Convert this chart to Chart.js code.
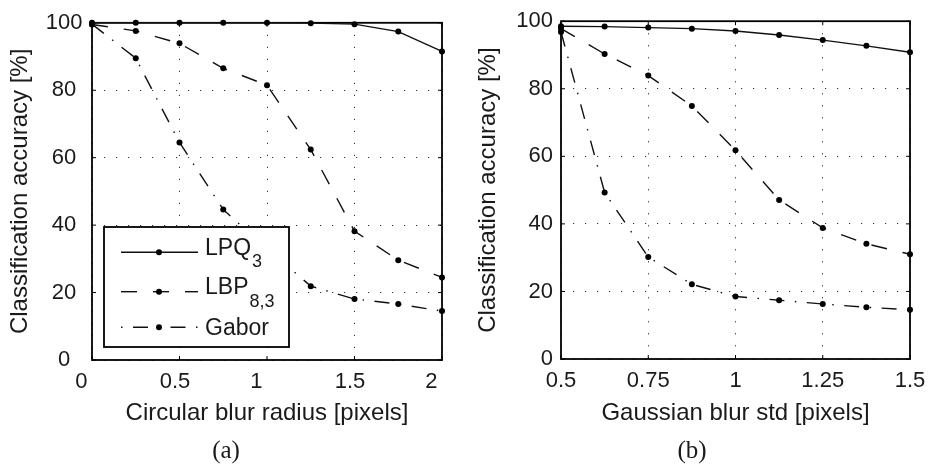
<!DOCTYPE html>
<html>
<head>
<meta charset="utf-8">
<script src="https://cdn.jsdelivr.net/npm/chart.js@4.4.1/dist/chart.umd.min.js"></script>
<style>
  html, body { margin: 0; padding: 0; background: #fff; }
  body { width: 935px; height: 466px; position: relative; overflow: hidden; }
  canvas { position: absolute; top: 0; }
  #chartA { left: 0; }
  #chartB { left: 467px; }
  .caption {
    position: absolute; top: 436px; width: 60px; text-align: center;
    font-family: "Liberation Serif", "DejaVu Serif", serif; font-size: 25px;
    line-height: 28px; color: #1a1a1a;
  }
</style>
</head>
<body>
<canvas id="chartA" width="467" height="466"></canvas>
<canvas id="chartB" width="468" height="466"></canvas>
<div class="caption" style="left:196px">(a)</div>
<div class="caption" style="left:662px">(b)</div>
<script>
// (a) circular blur
const radiusA = [0, 0.25, 0.5, 0.75, 1, 1.25, 1.5, 1.75, 2];
const lpqA   = [100, 100, 100, 100, 100, 99.9, 99.6, 97.4, 91.5];
const lbpA   = [99.5, 97.6, 93.9, 86.5, 81.5, 62.4, 38.2, 29.6, 24.5];
const gaborA = [99.6, 89.5, 64.5, 44.6, 33, 21.9, 18.1, 16.6, 14.5];

// (b) gaussian blur
const stdB   = [0.5, 0.625, 0.75, 0.875, 1, 1.125, 1.25, 1.375, 1.5];
const lpqB   = [98.5, 98.4, 98.1, 97.8, 97.1, 95.9, 94.4, 92.7, 90.8];
const lbpB   = [97.8, 90.3, 83.9, 74.9, 61.8, 47.1, 38.8, 34.1, 31.0];
const gaborB = [96.8, 49.3, 30.2, 22.1, 18.5, 17.4, 16.3, 15.3, 14.6];

// ticks
const xTicksA = [0, 0.5, 1, 1.5, 2];
const xTicksB = [0.5, 0.75, 1, 1.25, 1.5];
const yTicks  = [0, 20, 40, 60, 80, 100];

const seriesNames = ['LPQ', 'LBP', 'Gabor'];
const seriesSubs  = ['3', '8,3', ''];
const seriesDash  = [[], [16, 16], [15, 10.5, 1.5, 10.5]];

const FONT = '"Liberation Sans", Arial, Helvetica, sans-serif';
const TEXT = '#1a1a1a';
Chart.defaults.font.family = FONT;
Chart.defaults.color = TEXT;

// frame box + small inward ticks (drawn under the data, over the grid)
const framePlugin = {
  id: 'frame',
  beforeDatasetsDraw(chart) {
    const { ctx, chartArea: a, scales } = chart;
    ctx.save();
    ctx.strokeStyle = '#000';
    ctx.lineWidth = 1;
    ctx.beginPath();
    scales.x.ticks.forEach(t => {
      const px = scales.x.getPixelForValue(t.value);
      ctx.moveTo(px, a.bottom); ctx.lineTo(px, a.bottom - 4);
      ctx.moveTo(px, a.top); ctx.lineTo(px, a.top + 4);
    });
    scales.y.ticks.forEach(t => {
      const py = scales.y.getPixelForValue(t.value);
      ctx.moveTo(a.left, py); ctx.lineTo(a.left + 4, py);
      ctx.moveTo(a.right, py); ctx.lineTo(a.right - 4, py);
    });
    ctx.stroke();
    ctx.lineWidth = 1.8;
    ctx.strokeRect(a.left, a.top, a.right - a.left, a.bottom - a.top);
    ctx.restore();
  }
};

// matlab style legend box with subscripts
const legendBoxPlugin = {
  id: 'legendBox',
  afterDatasetsDraw(chart, args, opts) {
    if (!opts.show) return;
    const ctx = chart.ctx;
    const rowLine = [252.3, 291.7, 327.3];
    const rowBase = [255, 294, 334.5];
    const subBase = [266.5, 307];
    ctx.save();
    ctx.fillStyle = '#fff';
    ctx.fillRect(104, 227, 185, 120);
    ctx.strokeStyle = '#000';
    ctx.lineWidth = 1.8;
    ctx.strokeRect(104, 227, 185, 120);
    seriesNames.forEach((name, i) => {
      const y = rowLine[i];
      ctx.beginPath();
      ctx.setLineDash(seriesDash[i]);
      ctx.lineDashOffset = i === 2 ? 25.5 : 0;
      ctx.lineWidth = 1.4;
      ctx.strokeStyle = '#111';
      ctx.moveTo(121, y); ctx.lineTo(198, y);
      ctx.stroke();
      ctx.setLineDash([]);
      ctx.beginPath();
      ctx.fillStyle = '#000';
      ctx.arc(159, y, 3, 0, Math.PI * 2);
      ctx.fill();

      ctx.fillStyle = TEXT;
      ctx.textBaseline = 'alphabetic';
      ctx.textAlign = 'left';
      ctx.font = '23px ' + FONT;
      ctx.fillText(name, 205, rowBase[i]);
      if (seriesSubs[i]) {
        const w = ctx.measureText(name).width;
        ctx.font = '18px ' + FONT;
        ctx.fillText(seriesSubs[i], 205 + w + 1, subBase[i]);
      }
    });
    ctx.restore();
  }
};

function makeChart(id, xs, series, xTicks, xTitle, lay) {
  const datasets = series.map((vals, i) => ({
    label: seriesNames[i],
    data: xs.map((x, k) => ({ x: x, y: vals[k] })),
    borderColor: '#111',
    borderWidth: 1.4,
    borderDash: seriesDash[i],
    pointRadius: 3,
    pointHoverRadius: 3,
    pointBackgroundColor: '#000',
    pointBorderWidth: 0,
    tension: 0,
    fill: false,
    clip: false
  }));

  return new Chart(document.getElementById(id), {
    type: 'line',
    data: { datasets: datasets },
    options: {
      responsive: false,
      animation: false,
      events: [],
      layout: { padding: { top: 14, right: lay.right, left: 0, bottom: 0 } },
      scales: {
        x: {
          type: 'linear',
          min: xTicks[0],
          max: xTicks[xTicks.length - 1],
          afterBuildTicks: s => { s.ticks = xTicks.map(v => ({ value: v })); },
          afterFit: s => { s.height = lay.xHeight; },
          ticks: {
            font: { size: 22 },
            color: TEXT,
            padding: 8.8,
            maxRotation: 0,
            autoSkip: false,
            labelOffset: lay.labelOffset,
            callback: v => String(v) + (lay.padInts && Number.isInteger(v) ? '  ' : '')
          },
          grid: { color: '#333', lineWidth: 1, drawTicks: false },
          border: { display: false, dash: [1.2, 10.8] },
          title: {
            display: true, text: xTitle, color: TEXT,
            font: { size: 24 }, padding: { top: 0, bottom: 38.2 }
          }
        },
        y: {
          type: 'linear',
          min: 0,
          max: 100,
          afterBuildTicks: s => { s.ticks = yTicks.map(v => ({ value: v })); },
          afterFit: s => { s.width = lay.yWidth; },
          ticks: {
            font: { size: 22 },
            color: TEXT,
            padding: lay.yPad,
            crossAlign: lay.yAlign
          },
          grid: { color: '#333', lineWidth: 1, drawTicks: false },
          border: { display: false, dash: [1.2, 10.8] },
          title: {
            display: true, text: 'Classification accuracy [%]', color: TEXT,
            font: { size: 24 }, padding: { top: lay.yTitlePad, bottom: 0 }
          }
        }
      },
      plugins: {
        legend: { display: false },
        tooltip: { enabled: false },
        legendBox: { show: lay.legend }
      }
    },
    plugins: [framePlugin, legendBoxPlugin]
  });
}

makeChart('chartA', radiusA, [lpqA, lbpA, gaborA], xTicksA, 'Circular blur radius [pixels]', {
  right: 25, xHeight: 106, yWidth: 92, yPad: 9.6, yAlign: 'center',
  yTitlePad: 5.6, labelOffset: -4.5, padInts: true, legend: true
});

makeChart('chartB', stdB, [lpqB, lbpB, gaborB], xTicksB, 'Gaussian blur std [pixels]', {
  right: 25, xHeight: 107, yWidth: 94, yPad: 8, yAlign: 'near',
  yTitlePad: 6.6, labelOffset: 0, padInts: false, legend: false
});
</script>
</body>
</html>
